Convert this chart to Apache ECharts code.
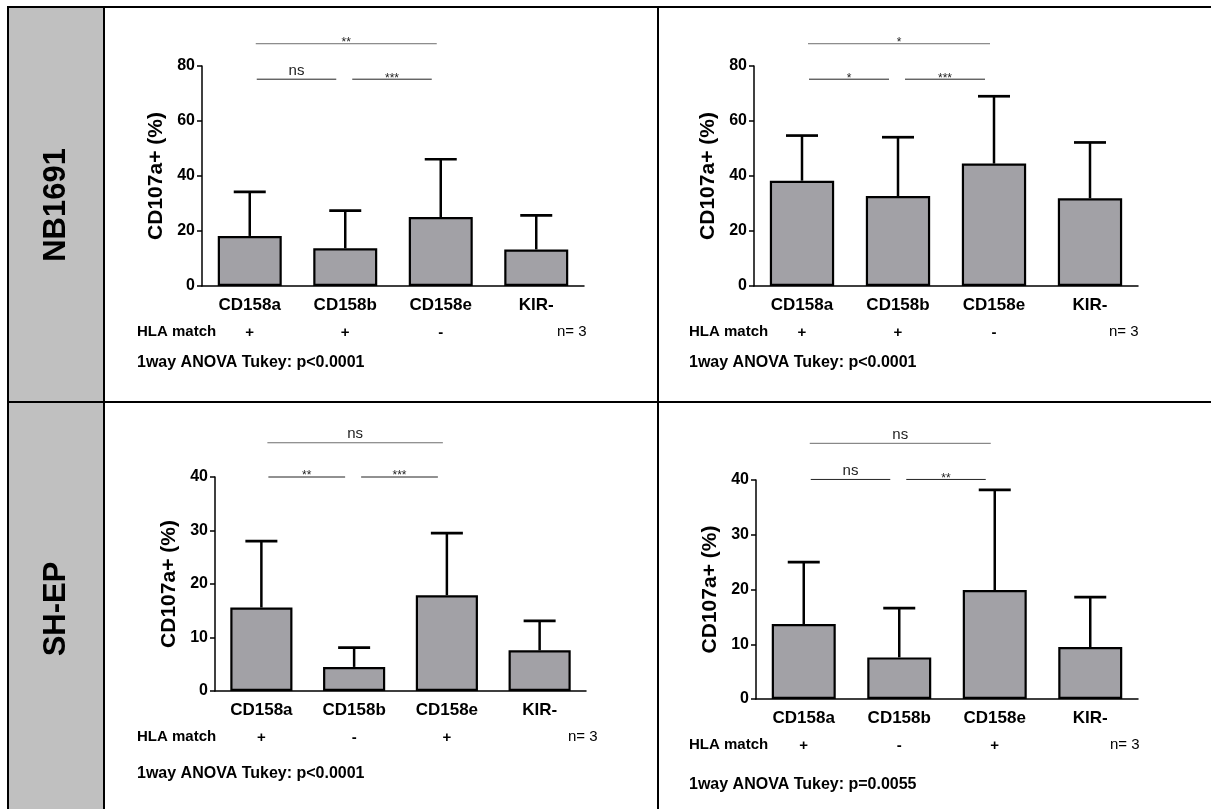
<!DOCTYPE html>
<html>
<head>
<meta charset="utf-8">
<script src="https://cdn.jsdelivr.net/npm/echarts@6/dist/echarts.min.js"></script>
<style>
html,body{margin:0;padding:0;background:#fff;}
#chart{width:1211px;height:809px;}
</style>
</head>
<body>
<div id="chart"></div>
<script>
// ---------- DATA ----------
const categories = ['CD158a', 'CD158b', 'CD158e', 'KIR-'];
const rowLabels = ['NB1691', 'SH-EP'];
const yAxisTitle = 'CD107a+ (%)';

const nbHlaMatch = ['+', '+', '-', ''];
const shHlaMatch = ['+', '-', '+', ''];

const nbLeftMean  = [18.2, 13.7, 25.1, 13.3];
const nbLeftSD    = [16.0, 13.7, 21.0, 12.4];
const nbRightMean = [38.3, 32.7, 44.5, 31.9];
const nbRightSD   = [16.4, 21.4, 24.5, 20.3];
const shLeftMean  = [15.6, 4.5, 17.9, 7.6];
const shLeftSD    = [12.4, 3.6, 11.6, 5.5];
const shRightMean = [13.7, 7.6, 19.9, 9.5];
const shRightSD   = [11.3, 9.0, 18.3, 9.1];

// comparisons: CD158a vs CD158e, CD158a vs CD158b, CD158b vs CD158e
const sigPairs = [[0, 2], [0, 1], [1, 2]];
const nbLeftSig  = ['**', 'ns', '***'];
const nbRightSig = ['*', '*', '***'];
const shLeftSig  = ['ns', '**', '***'];
const shRightSig = ['ns', 'ns', '**'];

const nbYTicks = [0, 20, 40, 60, 80];
const shYTicks = [0, 10, 20, 30, 40];

const nText = 'n= 3';
const hlaText = 'HLA match';
const nbLeftAnova  = '1way ANOVA Tukey: p<0.0001';
const nbRightAnova = '1way ANOVA Tukey: p<0.0001';
const shLeftAnova  = '1way ANOVA Tukey: p<0.0001';
const shRightAnova = '1way ANOVA Tukey: p=0.0055';

// ---------- LAYOUT ----------
const FONT = '"Liberation Sans", Arial, Helvetica, sans-serif';
const panels = [
  {mean: nbLeftMean,  sd: nbLeftSD,  sig: nbLeftSig,  hla: nbHlaMatch, ticks: nbYTicks, anova: nbLeftAnova,
   grid: {left: 202, top: 66, width: 382, height: 220}, sigY: [88.1, 75.2],
   hlaX: 137, nX: 557, anovaY: 364},
  {mean: nbRightMean, sd: nbRightSD, sig: nbRightSig, hla: nbHlaMatch, ticks: nbYTicks, anova: nbRightAnova,
   grid: {left: 754, top: 66, width: 384, height: 220}, sigY: [88.1, 75.2],
   hlaX: 689, nX: 1109, anovaY: 364},
  {mean: shLeftMean,  sd: shLeftSD,  sig: shLeftSig,  hla: shHlaMatch, ticks: shYTicks, anova: shLeftAnova,
   grid: {left: 215, top: 477, width: 371, height: 214}, sigY: [46.4, 40.0],
   hlaX: 137, nX: 568, anovaY: 775},
  {mean: shRightMean, sd: shRightSD, sig: shRightSig, hla: shHlaMatch, ticks: shYTicks, anova: shRightAnova,
   grid: {left: 756, top: 480, width: 382, height: 219}, sigY: [46.7, 40.1],
   hlaX: 689, nX: 1110, anovaY: 786}
];

const grids = [], xAxes = [], yAxes = [], series = [], graphics = [];

panels.forEach((p, k) => {
  grids.push(Object.assign({containLabel: false}, p.grid));
  const tMin = p.ticks[0], tMax = p.ticks[p.ticks.length - 1], tStep = p.ticks[1] - p.ticks[0];
  xAxes.push({
    type: 'category', gridIndex: k, data: categories,
    axisLine: {lineStyle: {color: '#000', width: 1.5}},
    axisTick: {alignWithLabel: true, length: 5, lineStyle: {color: '#000', width: 1.5}},
    axisLabel: {color: '#000', fontFamily: FONT, fontWeight: 'bold', fontSize: 17, margin: 11}
  });
  xAxes.push({
    type: 'category', gridIndex: k, data: categories, position: 'bottom', offset: 27,
    axisLine: {show: false}, axisTick: {show: false},
    axisLabel: {color: '#000', fontFamily: FONT, fontWeight: 'bold', fontSize: 15, margin: 12,
      formatter: (v, i) => p.hla[i]}
  });
  yAxes.push({
    type: 'value', gridIndex: k, min: tMin, max: tMax, interval: tStep,
    name: yAxisTitle, nameLocation: 'middle', nameRotate: 90, nameGap: 35,
    nameTextStyle: {color: '#000', fontFamily: FONT, fontWeight: 'bold', fontSize: 21},
    axisLine: {show: true, lineStyle: {color: '#000', width: 1.5}},
    axisTick: {show: true, length: 5, lineStyle: {color: '#000', width: 1.5}},
    splitLine: {show: false},
    axisLabel: {color: '#000', fontFamily: FONT, fontWeight: 'bold', fontSize: 16, margin: 7}
  });
  series.push({
    type: 'bar', xAxisIndex: 2 * k, yAxisIndex: k,
    data: p.mean, barWidth: '67%',
    itemStyle: {color: '#a2a1a6', borderColor: '#000', borderWidth: 2.2},
    silent: true, z: 2
  });
  series.push({
    type: 'custom', xAxisIndex: 2 * k, yAxisIndex: k, z: 3, silent: true,
    data: p.mean.map((m, i) => [i, m, p.sd[i]]),
    encode: {x: 0, y: 1},
    renderItem: (params, api) => {
      const i = api.value(0), m = api.value(1), s = api.value(2);
      const b = api.coord([i, m]);
      const t = api.coord([i, m + s]);
      return {type: 'group', children: [
        {type: 'line', shape: {x1: b[0], y1: b[1], x2: t[0], y2: t[1]}, style: {stroke: '#000', lineWidth: 2.5}},
        {type: 'line', shape: {x1: t[0] - 16, y1: t[1], x2: t[0] + 16, y2: t[1]}, style: {stroke: '#000', lineWidth: 2.7}}
      ]};
    }
  });
  series.push({
    type: 'custom', xAxisIndex: 2 * k, yAxisIndex: k, z: 4, silent: true, clip: false,
    data: sigPairs.map((pr, j) => [pr[0], pr[1], j === 0 ? p.sigY[0] : p.sigY[1]]),
    encode: {x: 0, y: 2},
    renderItem: (params, api) => {
      const j = params.dataIndex;
      const a = api.coord([api.value(0), api.value(2)]);
      const b = api.coord([api.value(1), api.value(2)]);
      const top = j === 0;
      const x1 = a[0] + (top ? 6 : 7), x2 = b[0] - (top ? 4 : 9);
      const label = p.sig[j];
      const isStar = label.indexOf('*') >= 0;
      return {type: 'group', children: [
        {type: 'line', shape: {x1: x1, y1: a[1], x2: x2, y2: a[1]},
         style: {stroke: top ? '#6e6e6e' : '#222', lineWidth: 1}},
        {type: 'text', x: (x1 + x2) / 2, y: a[1] + (isStar ? 5 : -1),
         style: {text: label, fill: '#222', font: (isStar ? '12px ' : '15px ') + FONT,
                 align: 'center', verticalAlign: 'bottom', textAlign: 'center', textVerticalAlign: 'bottom'}}
      ]};
    }
  });
  const axisY = p.grid.top + p.grid.height;
  graphics.push({type: 'text', left: p.hlaX, top: axisY + 38, silent: true,
    style: {text: hlaText, fill: '#000', font: 'bold 15px ' + FONT}});
  graphics.push({type: 'text', left: p.nX, top: axisY + 38, silent: true,
    style: {text: nText, fill: '#000', font: '15px ' + FONT}});
  graphics.push({type: 'text', left: p.hlaX, top: p.anovaY - 9, silent: true,
    style: {text: p.anova, fill: '#000', font: 'bold 16px ' + FONT}});
});

// frame / table
const L = {stroke: '#000', lineWidth: 2};
graphics.unshift(
  {type: 'rect', shape: {x: 8, y: 7, width: 96, height: 802}, style: {fill: '#c0c0c0'}, silent: true, z: -10},
  {type: 'line', shape: {x1: 7, y1: 7, x2: 1211, y2: 7}, style: L, silent: true},
  {type: 'line', shape: {x1: 8, y1: 7, x2: 8, y2: 809}, style: L, silent: true},
  {type: 'line', shape: {x1: 104, y1: 7, x2: 104, y2: 809}, style: L, silent: true},
  {type: 'line', shape: {x1: 658, y1: 7, x2: 658, y2: 809}, style: L, silent: true},
  {type: 'line', shape: {x1: 8, y1: 402, x2: 1211, y2: 402}, style: L, silent: true},
  {type: 'text', x: 56, y: 205, rotation: Math.PI / 2, silent: true,
   style: {text: rowLabels[0], fill: '#000', font: 'bold 31px ' + FONT, align: 'center', verticalAlign: 'middle'}},
  {type: 'text', x: 56, y: 609, rotation: Math.PI / 2, silent: true,
   style: {text: rowLabels[1], fill: '#000', font: 'bold 31px ' + FONT, align: 'center', verticalAlign: 'middle'}}
);

const chart = echarts.init(document.getElementById('chart'), null, {renderer: 'canvas'});
chart.setOption({
  backgroundColor: '#fff',
  animation: false,
  grid: grids,
  xAxis: xAxes,
  yAxis: yAxes,
  series: series,
  graphic: graphics
});
</script>
</body>
</html>
